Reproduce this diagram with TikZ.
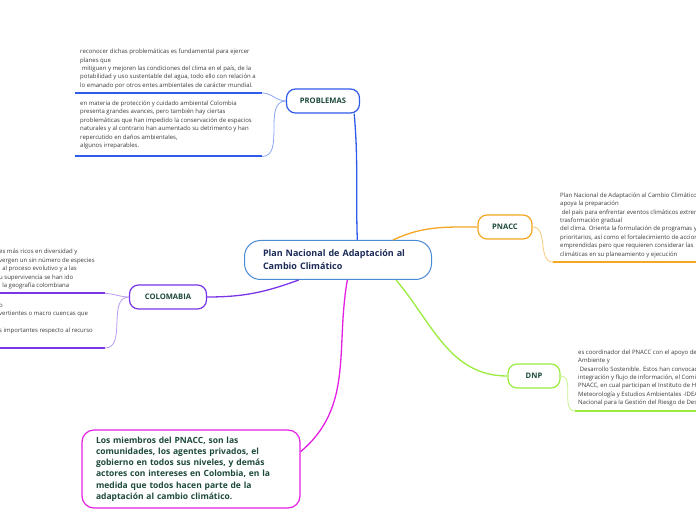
\documentclass[tikz,border=0pt]{standalone}
\usepackage{fontspec}
\setmainfont{Open Sans}
\usetikzlibrary{positioning}

\definecolor{planblue}{HTML}{4A8BD6}
\definecolor{plannavy}{HTML}{1B2A57}
\definecolor{probblue}{HTML}{2F5BEA}
\definecolor{problight}{HTML}{8AA6F2}
\definecolor{pnaccorange}{HTML}{F5A623}
\definecolor{pnacclight}{HTML}{F8C978}
\definecolor{dnpgreen}{HTML}{99EC3E}
\definecolor{dnplight}{HTML}{C6F28E}
\definecolor{colpurple}{HTML}{7B35E8}
\definecolor{collight}{HTML}{B89BF2}
\definecolor{mempink}{HTML}{E41FE4}
\definecolor{labelgreen}{HTML}{1D4A3A}
\definecolor{notegrey}{HTML}{3A3A3A}

\tikzset{
  mainbox/.style={draw=planblue, line width=1pt, rounded corners=16pt, fill=white,
    minimum width=187pt, minimum height=39pt, text width=150pt, inner xsep=18pt,
    align=left, text=plannavy, font=\bfseries\fontsize{9}{13}\selectfont},
  topic/.style={draw, line width=1.2pt, rounded corners=9pt, fill=white,
    minimum height=24pt, inner xsep=0pt, text=labelgreen,
    font=\bfseries\fontsize{7.6}{9}\selectfont},
  membox/.style={draw=mempink, line width=1.2pt, rounded corners=12pt, fill=white,
    minimum width=218pt, minimum height=78pt, text width=190pt, inner xsep=14pt,
    align=left, text=labelgreen, font=\bfseries\fontsize{8.5}{11.2}\selectfont},
  note/.style={anchor=north west, inner sep=0pt, align=left, text=notegrey,
    font=\fontsize{6}{8.4}\selectfont},
  link/.style={line width=1.3pt},
  uline/.style={line width=2pt},
  twig/.style={line width=0.8pt}
}

\begin{document}
\begin{tikzpicture}[x=1pt,y=1pt]
\useasboundingbox (0,0) rectangle (696,520);
\clip (0,0) rectangle (696,520);

% central idea and main branches
\node[mainbox] (plan) at (338,260) {Plan Nacional de Adaptación al\\Cambio Climático};
\node[topic, draw=probblue, minimum width=73pt] (prob) at (323,419) {PROBLEMAS};
\node[topic, draw=pnaccorange, minimum width=54pt] (pnacc) at (505,293) {PNACC};
\node[topic, draw=dnpgreen, minimum width=52pt] (dnp) at (534,144) {DNP};
\node[topic, draw=colpurple, minimum width=77pt] (colom) at (168,223) {COLOMABIA};
\node[membox] (miembros) at (191,51) {Los miembros del PNACC, son las\\
comunidades, los agentes privados, el\\
gobierno en todos sus niveles, y demás\\
actores con intereses en Colombia, en la\\
medida que todos hacen parte de la\\
adaptación al cambio climático.};

\draw[link, probblue] (plan.46) to [out=92, in=-85] (prob.-22);
\draw[link, pnaccorange] (plan.20) to [out=25, in=180] (pnacc.west);
\draw[link, dnpgreen] (plan.-19) to [out=-50, in=180] (dnp.west);
\draw[link, colpurple] (plan.207) to [out=-160, in=0] (colom.east);
\draw[link, mempink] (plan.-65) to [out=-100, in=40] (miembros.9);

% PROBLEMAS
\node[note] (probA) at (80,471) {reconocer dichas problemáticas es fundamental para ejercer\\
planes que\\
\ mitiguen y mejoren las condiciones del clima en el país, de la\\
potabilidad y uso sustentable del agua, todo ello con relación a\\
lo emanado por otros entes ambientales de carácter mundial.};
\node[note] (probB) at (80,419.2) {en materia de protección y cuidado ambiental Colombia\\
presenta grandes avances, pero también hay ciertas\\
problemáticas que han impedido la conservación de espacios\\
naturales y al contrario han aumentado su detrimento y han\\
repercutido en daños ambientales,\\
algunos irreparables.};
\coordinate (probA0) at (75,427);
\coordinate (probA1) at (262,427);
\coordinate (probB0) at (75,363.5);
\coordinate (probB1) at (262,363.5);
\draw[uline, probblue] (probA0) -- (probA1);
\draw[uline, probblue] (probB0) -- (probB1);
\draw[twig, problight] (probA1) to [out=0, in=180] (prob.west);
\draw[twig, problight] (probB1) to [out=0, in=180] (prob.west);

% PNACC
\node[note] (pnaccA) at (560,327.5) {Plan Nacional de Adaptación al Cambio Climático\\
apoya la preparación\\
\ del país para enfrentar eventos climáticos extremos\\
trasformación gradual\\
del clima. Orienta la formulación de programas y\\
prioritarios, así como el fortalecimiento de acciones\\
emprendidas pero que requieren considerar las\\
climáticas en su planeamiento y ejecución};
\coordinate (pnaccA0) at (553,258);
\coordinate (pnaccA1) at (700,258);
\draw[uline, pnaccorange] (pnaccA0) -- (pnaccA1);
\draw[twig, pnacclight] (pnacc.east) to [out=0, in=180] (pnaccA0);

% DNP
\node[note] (dnpA) at (578,170.5) {es coordinador del PNACC con el apoyo del\\
Ambiente y\\
\ Desarrollo Sostenible. Estos han convocado\\
integración y flujo de información, el Comité\\
PNACC, en cual participan el Instituto de Hidrología,\\
Meteorología y Estudios Ambientales -IDEAM\\
Nacional para la Gestión del Riesgo de Desastres};
\coordinate (dnpA0) at (575,109);
\coordinate (dnpA1) at (700,109);
\draw[uline, dnpgreen] (dnpA0) -- (dnpA1);
\draw[twig, dnplight] (dnp.east) to [out=0, in=180] (dnpA0);

% COLOMABIA
\node[note] (colA) at (-1,270.8) {es más ricos en diversidad y\\
vergen un sin número de especies\\
\ \ al proceso evolutivo y a las\\
u supervivencia se han ido\\
\ \ la geografía colombiana};
\node[note] (colB) at (-1,216.3) {o\\
vertientes o macro cuencas que\\[8.4pt]
s importantes respecto al recurso};
\coordinate (colA0) at (-5,226.5);
\coordinate (colA1) at (105,226.5);
\coordinate (colB0) at (-5,172);
\coordinate (colB1) at (105,172);
\draw[uline, colpurple] (colA0) -- (colA1);
\draw[uline, colpurple] (colB0) -- (colB1);
\draw[twig, collight] (colA1) to [out=0, in=180] (colom.west);
\draw[twig, collight] (colB1) to [out=0, in=180] (colom.west);
\end{tikzpicture}
\end{document}
